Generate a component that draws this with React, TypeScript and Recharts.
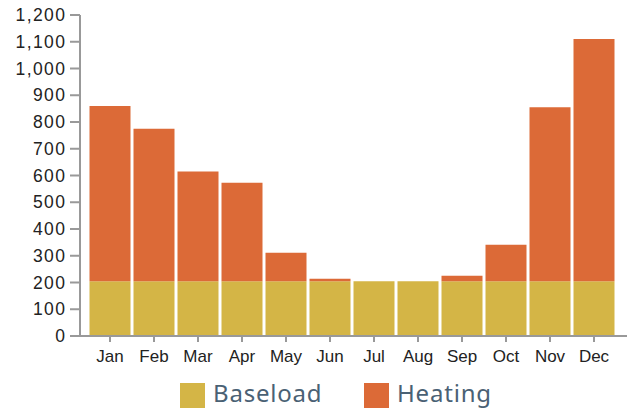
import React from 'react';
import { BarChart, Bar, XAxis, YAxis, Legend } from 'recharts';

const months = ['Jan', 'Feb', 'Mar', 'Apr', 'May', 'Jun', 'Jul', 'Aug', 'Sep', 'Oct', 'Nov', 'Dec'];
const baseload = [205, 205, 205, 205, 205, 205, 205, 205, 205, 205, 205, 205];
const heating = [655, 570, 410, 368, 106, 9, 0, 0, 20, 136, 650, 905];
const yTicks = [0, 100, 200, 300, 400, 500, 600, 700, 800, 900, 1000, 1100, 1200];

const data = months.map((m, i) => ({ month: m, baseload: baseload[i], heating: heating[i] }));

const BASE_COLOR = '#d4b546';
const HEAT_COLOR = '#dc6a37';
const AXIS_COLOR = '#999999';

function LegendBox() {
  const items = [
    { label: 'Baseload', color: BASE_COLOR },
    { label: 'Heating', color: HEAT_COLOR },
  ];
  return (
    <div style={{ position: 'relative', height: 41, width: 629 }}>
      {items.map((it, i) => (
        <div key={it.label} style={{ position: 'absolute', left: i === 0 ? 180 : 364, top: 15, display: 'flex' }}>
          <div style={{ width: 25, height: 25, background: it.color, marginRight: 8 }} />
          <span
            style={{
              fontFamily: '"Noto Sans"',
              fontSize: 24,
              letterSpacing: 0.8,
              color: '#4a6174',
              lineHeight: '24px',
              marginTop: -2,
              whiteSpace: 'nowrap',
            }}
          >
            {it.label}
          </span>
        </div>
      ))}
    </div>
  );
}

export default function App() {
  const xTick = { fontFamily: '"Liberation Sans", Arial, sans-serif', fontSize: 17, fill: '#222' };
  const yTick = { ...xTick, fontSize: 17.5, letterSpacing: 1.4 };
  return (
    <div style={{ position: 'absolute', left: 0, top: 0 }}>
      <BarChart
        width={629}
        height={409}
        data={data}
        margin={{ top: 15, right: 2, left: 0, bottom: 0 }}
        barCategoryGap={1.5}
      >
        <XAxis
          dataKey="month"
          height={32}
          padding={{ left: 8, right: 11 }}
          tick={xTick}
          tickSize={6}
          tickMargin={8}
          stroke={AXIS_COLOR}
          strokeWidth={2}
          interval={0}
        />
        <YAxis
          width={80}
          domain={[0, 1200]}
          ticks={yTicks}
          tick={yTick}
          tickSize={10}
          tickMargin={3.6}
          stroke={AXIS_COLOR}
          strokeWidth={2}
          tickFormatter={(v: number) => v.toLocaleString('en-US')}
        />
        <Legend
          verticalAlign="bottom"
          height={41}
          wrapperStyle={{ left: 0, bottom: 0, width: 629 }}
          content={() => <LegendBox />}
        />
        <Bar dataKey="baseload" stackId="a" fill={BASE_COLOR} isAnimationActive={false} />
        <Bar dataKey="heating" stackId="a" fill={HEAT_COLOR} isAnimationActive={false} />
      </BarChart>
    </div>
  );
}
